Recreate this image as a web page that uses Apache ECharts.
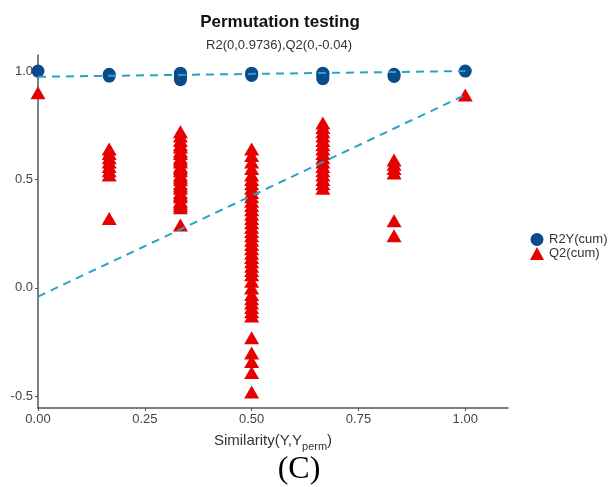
<!DOCTYPE html>
<html>
<head>
<meta charset="utf-8">
<script src="https://cdn.jsdelivr.net/npm/echarts@6/dist/echarts.min.js"></script>
<style>
  html, body { margin: 0; padding: 0; background: #fff; }
  #chart { width: 610px; height: 487px; }
</style>
</head>
<body>
<div id="chart"></div>
<script>
// Permutation positions (similarity between Y and permuted Y)
var simLevels = [0, 1/6, 1/3, 1/2, 2/3, 5/6, 1];

// R2Y(cum) values for each similarity level
var r2Values = [
  [1.0],
  [0.977, 0.985],
  [0.96, 0.97, 0.98, 0.99],
  [0.98, 0.99],
  [0.965, 0.975, 0.985, 0.99],
  [0.975, 0.985],
  [1.0]
];

// Q2(cum) values for each similarity level
var q2Values = [
  [0.90],
  [0.64, 0.62, 0.60, 0.58, 0.56, 0.54, 0.52, 0.32],
  [0.72, 0.70, 0.68, 0.66, 0.65, 0.63, 0.62, 0.60, 0.59, 0.58, 0.56, 0.55, 0.54,
   0.52, 0.51, 0.50, 0.48, 0.47, 0.46, 0.44, 0.43, 0.42, 0.40, 0.39, 0.38, 0.37, 0.29],
  [0.64, 0.61, 0.58, 0.55, 0.52, 0.50, 0.48, 0.46, 0.44, 0.42, 0.40, 0.38, 0.36,
   0.34, 0.32, 0.30, 0.28, 0.26, 0.24, 0.22, 0.20, 0.18, 0.16, 0.14, 0.12, 0.10,
   0.08, 0.06, 0.03, 0.00, -0.03, -0.05, -0.07, -0.09, -0.11, -0.13,
   -0.23, -0.30, -0.34, -0.39, -0.48],
  [0.76, 0.74, 0.72, 0.70, 0.68, 0.66, 0.64, 0.62, 0.60, 0.58, 0.56, 0.54, 0.52,
   0.50, 0.48, 0.46],
  [0.59, 0.57, 0.55, 0.53, 0.31, 0.24],
  [0.89]
];

// Regression lines: intercepts at similarity 0, values at 1
var r2Fit = [[0, 0.9736], [1, 1.0]];
var q2Fit = [[0, -0.04], [1, 0.89]];

// Axis ticks
var xTicks = [0, 0.25, 0.5, 0.75, 1.0];
var yTicks = [-0.5, 0, 0.5, 1.0];

function toPoints(groups) {
  var pts = [];
  groups.forEach(function (vals, i) {
    vals.forEach(function (v) { pts.push([simLevels[i], v]); });
  });
  return pts;
}

var FONT = '"Liberation Sans", Arial, sans-serif';
var lineColor = '#27a4c4';
var axisColor = '#555';

var chart = echarts.init(document.getElementById('chart'), null, { renderer: 'canvas' });
chart.setOption({
  animation: false,
  backgroundColor: '#ffffff',
  title: [{
    text: 'Permutation testing',
    left: 275, top: 9, textAlign: 'center',
    textStyle: { fontFamily: FONT, fontSize: 17, fontWeight: 'bold', color: '#111' }
  }, {
    text: 'R2(0,0.9736),Q2(0,-0.04)',
    left: 274, top: 34, textAlign: 'center',
    textStyle: { fontFamily: FONT, fontSize: 13, fontWeight: 'normal', color: '#333' }
  }],
  legend: {
    orient: 'vertical',
    left: 525, top: 228,
    itemGap: 1,
    itemWidth: 14, itemHeight: 13,
    data: ['R2Y(cum)', 'Q2(cum)'],
    textStyle: { fontFamily: FONT, fontSize: 13, color: '#333' }
  },
  grid: { left: 38, right: 102, top: 55, bottom: 79, containLabel: false },
  xAxis: {
    type: 'value',
    min: 0, max: 1.1,
    name: '{a|Similarity(Y,Y}{s|perm}{a|)}',
    nameLocation: 'middle',
    nameGap: 22,
    nameTextStyle: {
      rich: {
        a: { fontFamily: FONT, fontSize: 15, color: '#333', verticalAlign: 'bottom', lineHeight: 18 },
        s: { fontFamily: FONT, fontSize: 11, color: '#333', verticalAlign: 'bottom', lineHeight: 14, padding: [0, 0, -4, 0] }
      }
    },
    splitLine: { show: false },
    axisLine: { show: true, onZero: false, lineStyle: { color: axisColor, width: 1.5 } },
    axisTick: { show: true, customValues: xTicks, length: 3, lineStyle: { color: axisColor } },
    axisLabel: {
      customValues: xTicks,
      formatter: function (v) { return v.toFixed(2); },
      fontFamily: FONT, fontSize: 13, color: '#444', margin: 5
    }
  },
  yAxis: {
    type: 'value',
    min: -0.554, max: 1.074,
    splitLine: { show: false },
    axisLine: { show: true, onZero: false, lineStyle: { color: axisColor, width: 1.5 } },
    axisTick: { show: true, customValues: yTicks, length: 3, lineStyle: { color: axisColor } },
    axisLabel: {
      customValues: yTicks,
      formatter: function (v) { return v.toFixed(1); },
      fontFamily: FONT, fontSize: 13, color: '#444', margin: 5
    }
  },
  series: [{
    name: 'Q2(cum)',
    type: 'scatter',
    symbol: 'triangle',
    symbolSize: [15, 13],
    itemStyle: { color: '#e60000', opacity: 1 },
    data: toPoints(q2Values),
    z: 2
  }, {
    name: 'R2Y(cum)',
    type: 'scatter',
    symbol: 'circle',
    symbolSize: 13,
    itemStyle: { color: '#0b4a8b', opacity: 1 },
    data: toPoints(r2Values),
    z: 2
  }, {
    name: 'R2 fit',
    type: 'line',
    data: r2Fit,
    showSymbol: false,
    lineStyle: { color: lineColor, width: 2, type: [8, 6] },
    z: 3
  }, {
    name: 'Q2 fit',
    type: 'line',
    data: q2Fit,
    showSymbol: false,
    lineStyle: { color: lineColor, width: 2, type: [8, 6] },
    z: 3
  }],
  graphic: [{
    type: 'text',
    x: 299, y: 470,
    style: {
      text: '(C)',
      font: '32px "Liberation Serif", "Times New Roman", serif',
      fill: '#000',
      align: 'center',
      verticalAlign: 'middle'
    }
  }]
});
</script>
</body>
</html>
